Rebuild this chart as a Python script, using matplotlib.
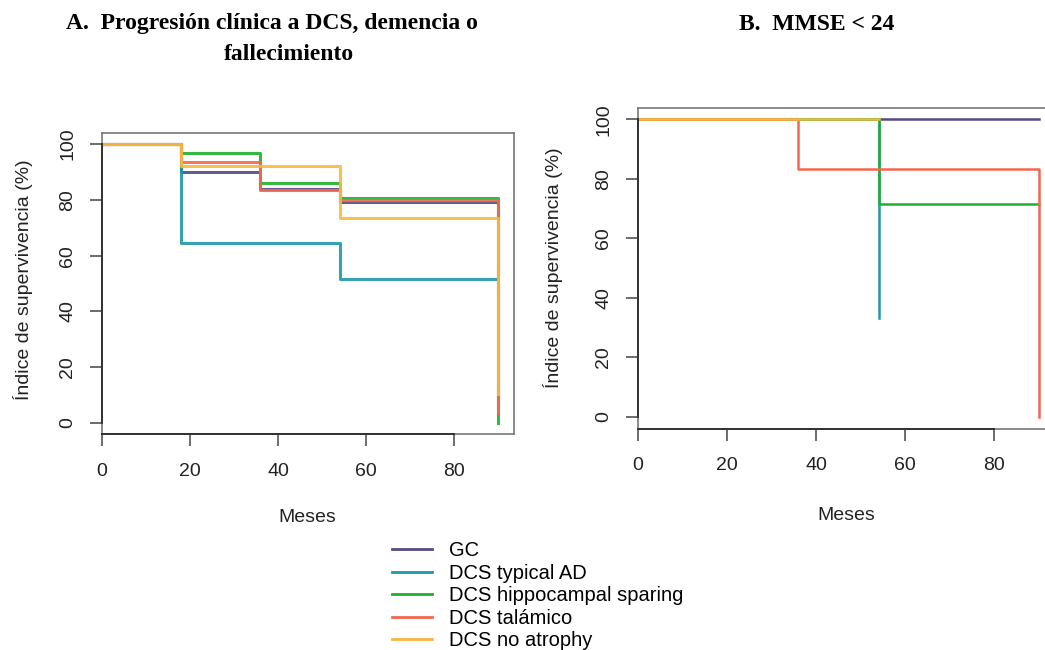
import matplotlib
matplotlib.use('Agg')
import matplotlib.pyplot as plt
from matplotlib.lines import Line2D

plt.rcParams['font.family'] = ['Liberation Sans', 'DejaVu Sans']

# Grupos y colores
grupos = ['GC', 'DCS typical AD', 'DCS hippocampal sparing', 'DCS talámico', 'DCS no atrophy']
colores = ['#554a80', '#1d98aa', '#1fb02e', '#f4664d', '#f5b940']

# A. Progresión clínica a DCS, demencia o fallecimiento (meses, % supervivencia)
tiempos_a = [0, 18, 36, 54, 90]
surv_a_gc = [100, 90.1, 83.9, 79.3, 79.3]
surv_a_typical = [100, 64.4, 64.4, 51.6, 51.6]
surv_a_hipp = [100, 96.8, 86.1, 80.8, 0]
surv_a_tal = [100, 93.5, 83.7, 79.8, 3.5]
surv_a_noatr = [100, 92.0, 92.0, 73.6, 10.4]

# B. MMSE < 24
tiempos_b_gc = [0, 90]
surv_b_gc = [100, 100]
tiempos_b_typical = [0, 54]
surv_b_typical = [100, 33.3]
tiempos_b_hipp = [0, 54, 90]
surv_b_hipp = [100, 71.4, 71.4]
tiempos_b_tal = [0, 36, 90]
surv_b_tal = [100, 83.3, 0]
tiempos_b_noatr = [0, 54]
surv_b_noatr = [100, 100]

xticks = [0, 20, 40, 60, 80]
yticks = [0, 20, 40, 60, 80, 100]

W, H = 1045, 650
fig = plt.figure(figsize=(W / 100, H / 100), dpi=100)


def px_axes(left, top, right, bottom):
    return fig.add_axes([left / W, 1 - bottom / H, (right - left) / W, (bottom - top) / H])


def estilo(ax):
    ax.set_xlim(0, 93.6)
    ax.set_ylim(-4, 104)
    ax.set_xticks(xticks)
    ax.set_yticks(yticks)
    for s in ax.spines.values():
        s.set_color('#777777')
        s.set_linewidth(1.2)
    ax.tick_params(axis='both', direction='out', length=8.6, width=1.1,
                   color='#444444', labelsize=14, labelcolor='#222222')
    ax.tick_params(axis='x', pad=12)
    ax.tick_params(axis='y', pad=10)
    for lab in ax.get_yticklabels():
        lab.set_rotation(90)
        lab.set_va('center')
    # linea de eje en negro entre el primer y el ultimo tick
    ax.plot([0, 80], [-4, -4], color='#333333', lw=1.4, clip_on=False, zorder=5)
    ax.plot([0, 0], [0, 100], color='#333333', lw=1.4, clip_on=False, zorder=5)


# Panel A
axA = px_axes(102, 133, 514, 434)
series_a = [surv_a_gc, surv_a_typical, surv_a_hipp, surv_a_tal, surv_a_noatr]
for s, c in zip(series_a, colores):
    axA.step(tiempos_a, s, where='post', color=c, lw=2.2, alpha=0.9)
estilo(axA)

# Panel B
axB = px_axes(638, 107.5, 1055, 428.6)
series_b = [(tiempos_b_gc, surv_b_gc), (tiempos_b_typical, surv_b_typical),
            (tiempos_b_hipp, surv_b_hipp), (tiempos_b_tal, surv_b_tal),
            (tiempos_b_noatr, surv_b_noatr)]
for (t, s), c in zip(series_b, colores):
    axB.step(t, s, where='post', color=c, lw=1.8)
estilo(axB)

# Textos de ejes
ylab = 'Índice de supervivencia (%)'
fig.text(23 / W, 1 - 280 / H, ylab, rotation=90, ha='center', va='center', fontsize=14, color='#222222')
fig.text(553 / W, 1 - 268 / H, ylab, rotation=90, ha='center', va='center', fontsize=14, color='#222222')
fig.text(307 / W, 1 - 518 / H, 'Meses', ha='center', va='center', fontsize=14, color='#222222')
fig.text(846 / W, 1 - 515 / H, 'Meses', ha='center', va='center', fontsize=14, color='#222222')

# Titulos
tfont = dict(family='Liberation Serif', fontweight='bold', fontsize=17, color='black')
fig.text(272 / W, 1 - 24 / H, 'A.  Progresión clínica a DCS, demencia o', ha='center', va='center', **tfont)
fig.text(289 / W, 1 - 55 / H, 'fallecimiento', ha='center', va='center', **tfont)
fig.text(817 / W, 1 - 24 / H, 'B.  MMSE < 24', ha='center', va='center', **tfont)

# Leyenda
handles = [Line2D([0], [0], color=c, lw=2) for c in colores]
fig.legend(handles, grupos, loc='upper left', bbox_to_anchor=(392 / W, 1 - 541 / H),
           frameon=False, fontsize=14.5, handlelength=1.98, handletextpad=0.87,
           labelspacing=0.18, borderpad=0, borderaxespad=0)

fig.savefig('out.png', dpi=100)
